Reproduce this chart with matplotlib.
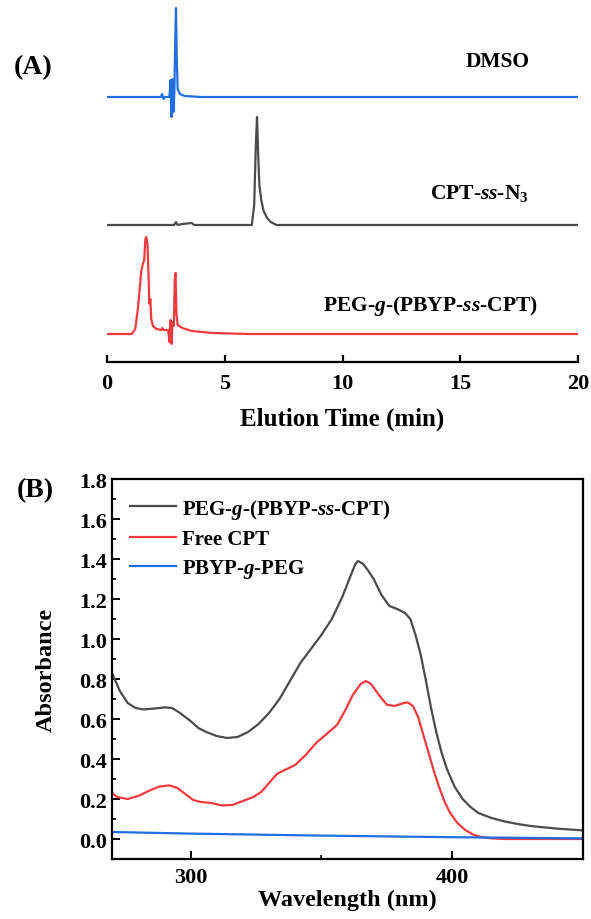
import numpy as np
import matplotlib
matplotlib.use('Agg')
from matplotlib import pyplot as plt

# ---- panel A: elution traces (time in min, signal above own baseline) ----
dmso_t = [0, 2.28, 2.34, 2.40, 2.45, 2.65, 2.70, 2.74, 2.78, 2.82, 2.86, 2.90, 2.93, 2.96, 3.00, 3.10, 3.30, 4.00, 20]
dmso_y = [0, 0, 3, -2, 0, 0, 17, -20, 18, -15, 5, 60, 89, 40, 8, 3, 1, 0, 0]

cpt_t = [0, 2.85, 2.93, 3.00, 3.20, 3.60, 3.70, 6.15, 6.25, 6.32, 6.37, 6.42, 6.47, 6.55, 6.65, 6.80, 6.95, 7.20, 20]
cpt_y = [0, 0, 3, 0, 1, 2, 0, 0, 20, 80, 108, 70, 40, 25, 14, 7, 3, 0, 0]

peg_t = [0, 1.05, 1.20, 1.32, 1.45, 1.52, 1.58, 1.63, 1.67, 1.72, 1.76, 1.80, 1.84, 1.88, 1.95, 2.10,
         2.30, 2.35, 2.40, 2.60, 2.65, 2.70, 2.74, 2.78, 2.84, 2.88, 2.91, 2.95, 3.00, 3.20, 3.60, 4.50, 6.00, 20]
peg_y = [0, 0, 5, 27, 62, 70, 74, 95, 97, 90, 60, 30, 35, 15, 8, 5,
         4, 6, 4, 4, -8, 14, -10, 12, 8, 55, 61, 20, 9, 6, 3, 1, 0, 0]

# ---- panel B: UV-vis spectra ----
wl_black = [270, 273, 276, 279, 282, 286, 290, 293, 296, 300, 303, 306, 310, 314, 318, 322, 326, 330,
            334, 338, 342, 346, 350, 354, 358, 361, 363, 364, 366, 368, 370, 373, 376, 379, 382, 384, 386, 388,
            390, 392, 394, 396, 398, 401, 404, 407, 410, 415, 420, 425, 430, 440, 450]
abs_black = [0.83, 0.74, 0.68, 0.655, 0.648, 0.652, 0.658, 0.655, 0.63, 0.59, 0.555, 0.535, 0.515, 0.505, 0.51, 0.535, 0.575, 0.63,
             0.70, 0.79, 0.88, 0.95, 1.02, 1.10, 1.21, 1.31, 1.375, 1.39, 1.375, 1.34, 1.30, 1.22, 1.165, 1.15, 1.13, 1.10, 1.02, 0.92,
             0.79, 0.65, 0.53, 0.43, 0.35, 0.26, 0.20, 0.16, 0.13, 0.105, 0.088, 0.075, 0.065, 0.052, 0.043]

wl_red = [270, 272, 276, 280, 284, 288, 292, 295, 298, 301, 304, 308, 312, 316, 320, 324, 327, 330,
          333, 336, 340, 344, 348, 352, 356, 359, 362, 365, 367, 369, 372, 375, 378, 381, 383, 385,
          387, 389, 391, 393, 395, 397, 399, 402, 405, 408, 411, 415, 420, 430, 450]
abs_red = [0.23, 0.21, 0.20, 0.215, 0.24, 0.262, 0.268, 0.255, 0.225, 0.195, 0.185, 0.18, 0.168, 0.17, 0.19, 0.21, 0.235, 0.28,
           0.325, 0.345, 0.37, 0.42, 0.48, 0.525, 0.57, 0.64, 0.72, 0.775, 0.79, 0.775, 0.72, 0.672, 0.665, 0.678, 0.683, 0.665,
           0.61, 0.52, 0.43, 0.34, 0.26, 0.19, 0.135, 0.08, 0.045, 0.022, 0.01, 0.003, 0.0, 0.0, 0.0]

wl_blue = [270, 300, 350, 400, 450]
abs_blue = [0.035, 0.027, 0.017, 0.009, 0.003]

labels_a = ['DMSO', r'CPT-$\it{ss}$-N$_3$', r'PEG-$\it{g}$-(PBYP-$\it{ss}$-CPT)']
labels_b = [r'PEG-$\it{g}$-(PBYP-$\it{ss}$-CPT)', 'Free CPT', r'PBYP-$\it{g}$-PEG']

c_blue = '#1f6fe3'
c_grey = '#4b4b4b'
c_red = '#f03a3e'

plt.rcParams['font.family'] = 'Liberation Serif'
plt.rcParams['font.weight'] = 'bold'
plt.rcParams['axes.labelweight'] = 'bold'
plt.rcParams['mathtext.fontset'] = 'custom'
plt.rcParams['mathtext.rm'] = 'Liberation Serif:bold'
plt.rcParams['mathtext.it'] = 'Liberation Serif:italic:bold'
plt.rcParams['mathtext.bf'] = 'Liberation Serif:bold'

W, H = 591, 920
fig = plt.figure(figsize=(W / 100, H / 100), dpi=100)

# panel A
axA = fig.add_axes([107 / W, 1 - 363 / H, 471 / W, 363 / H])
axA.plot(dmso_t, np.array(dmso_y) + 265, color=c_blue, lw=1.6)
axA.plot(cpt_t, np.array(cpt_y) + 137, color=c_grey, lw=1.6)
axA.plot(peg_t, np.array(peg_y) + 28, color=c_red, lw=1.6)
axA.set_xlim(0, 20)
axA.set_ylim(0, 363)
for s in ['top', 'left', 'right']:
    axA.spines[s].set_visible(False)
axA.spines['bottom'].set_linewidth(1.6)
axA.set_yticks([])
axA.set_xticks([0, 5, 10, 15, 20])
axA.tick_params(axis='x', direction='in', length=5, width=1.6, labelsize=16, pad=8)
axA.set_xlabel('Elution Time (min)', fontsize=18, labelpad=10)
axA.text(16.6, 301, labels_a[0], fontsize=15.5, ha='center', va='center')
axA.text(15.8, 170, labels_a[1], fontsize=15.5, ha='center', va='center')
axA.text(13.75, 57, labels_a[2], fontsize=15.5, ha='center', va='center')
fig.text(33 / W, 1 - 68 / H, '(A)', fontsize=20, ha='center', va='center')

# panel B
axB = fig.add_axes([112 / W, 1 - 860 / H, 471 / W, 380 / H])
axB.plot(wl_black, abs_black, color=c_grey, lw=1.6, label=labels_b[0])
axB.plot(wl_red, abs_red, color=c_red, lw=1.6, label=labels_b[1])
axB.plot(wl_blue, abs_blue, color=c_blue, lw=1.6, label=labels_b[2])
axB.set_xlim(270, 450)
axB.set_ylim(-0.1, 1.8)
axB.set_xticks([300, 400])
axB.set_xticks([350], minor=True)
axB.set_yticks(np.arange(0, 1.81, 0.2))
axB.set_yticks(np.arange(-0.1, 1.81, 0.1), minor=True)
axB.yaxis.set_major_formatter(matplotlib.ticker.FormatStrFormatter('%.1f'))
for s in axB.spines.values():
    s.set_linewidth(1.6)
axB.tick_params(which='major', direction='in', length=6, width=1.4, labelsize=16)
axB.tick_params(which='minor', direction='in', length=3, width=1.2)
axB.tick_params(axis='x', pad=6)
axB.set_xlabel('Wavelength (nm)', fontsize=17.5, labelpad=1)
axB.set_ylabel('Absorbance', fontsize=17.5, labelpad=16)
axB.legend(loc='upper left', frameon=False, fontsize=15, handlelength=2.2,
           handletextpad=0.3, labelspacing=0.4, borderaxespad=0.45)
fig.text(35 / W, 1 - 491 / H, '(B)', fontsize=20, ha='center', va='center')

fig.savefig('out.png', dpi=100)
